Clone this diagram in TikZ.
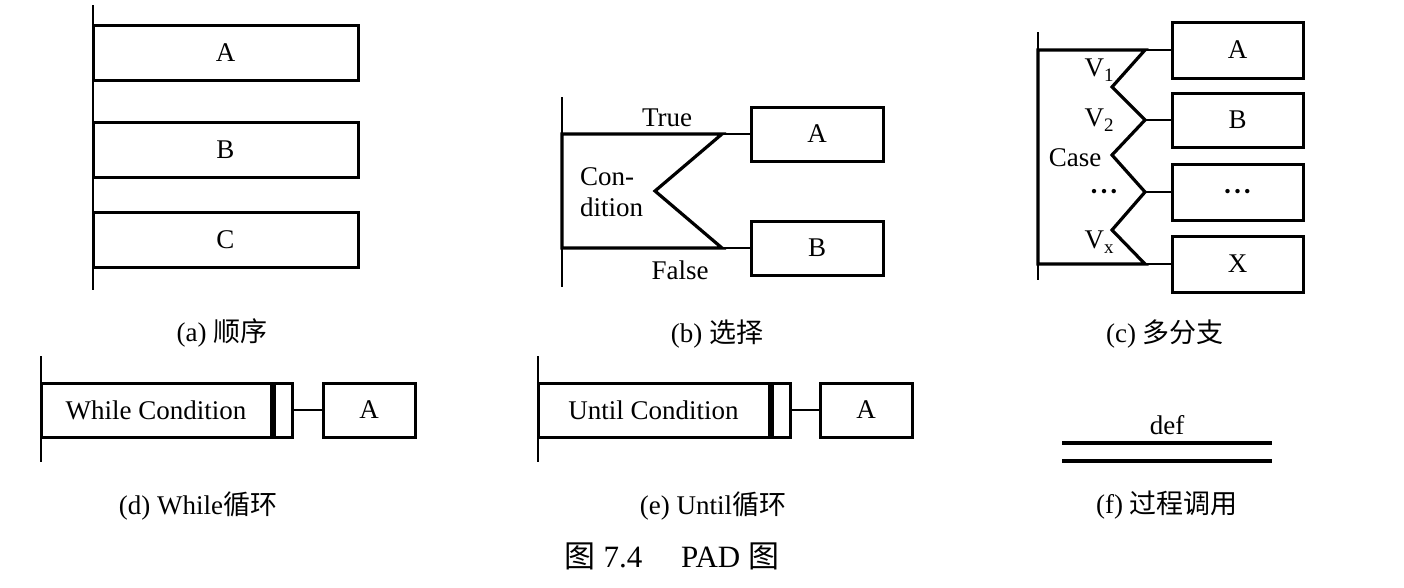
\documentclass[tikz,border=0pt]{standalone}
\usepackage{fontspec}
\setmainfont{Liberation Serif}
\newfontfamily\cjk{Noto Sans CJK SC}
\usetikzlibrary{positioning, calc}
\tikzset{box/.style={draw, line width=3pt, minimum height=55pt, inner sep=0pt, font=\fontsize{27}{31}\selectfont}}
\tikzset{link/.style={line width=1.3pt}, heavy/.style={line width=3.2pt, line join=miter}}
\tikzset{lbl/.style={inner sep=0pt, font=\fontsize{27}{31}\selectfont}, caption/.style={inner sep=0pt, font=\fontsize{27}{30}\selectfont}}
\newcommand{\vsub}[1]{V\raisebox{-0.45ex}{\fontsize{19}{19}\selectfont #1}}
\newcommand{\dotsc}{\raisebox{-8pt}[0pt][0pt]{\bfseries\textperiodcentered\kern1pt\textperiodcentered\kern1pt\textperiodcentered}}

\begin{document}
\begin{tikzpicture}[x=1pt, y=-1pt]
\useasboundingbox (0,0) rectangle (1404,587);
% (a) sequence
\draw[link] (93,5) -- (93,290);
\node[box, minimum width=265pt] (sa) at (225.5,52.5) {A};
\node[box, minimum width=265pt] (sb) at (225.5,149.5) {B};
\node[box, minimum width=265pt] (sc) at (225.5,240) {C};
\node[caption] (capa) at (222,333) {(a) {\cjk 顺序}};
% (b) selection
\draw[link] (562,97) -- (562,287);
\coordinate (bt) at (722,134);
\coordinate (bm) at (655,191);
\coordinate (bb) at (722,248);
\draw[heavy] (bt) -- (bm) -- (bb) -- (562,248) -- (562,134) -- cycle;
\node[box, minimum width=132pt, minimum height=54pt] (ba) at (817,134) {A};
\node[box, minimum width=132pt, minimum height=54pt] (bbx) at (817,248) {B};
\draw[link] (bt) -- (ba.west)
(bb) -- (bbx.west);
\node[lbl] (tru) at (667,118) {True};
\node[lbl] (fal) at (680,270) {False};
\node[lbl, align=left, anchor=west] (cnd) at (580,192) {Con-\\dition};
\node[caption] (capb) at (717,334) {(b) {\cjk 选择}};
% (c) case
\draw[link] (1038,32) -- (1038,280);
\coordinate (c1) at (1145,50);
\coordinate (c2) at (1112,87);
\coordinate (c3) at (1145,120);
\coordinate (c4) at (1112,155);
\coordinate (c5) at (1145,192);
\coordinate (c6) at (1112,230);
\coordinate (c7) at (1145,264);
\draw[heavy] (c1) -- (c2) -- (c3) -- (c4) -- (c5) -- (c6) -- (c7) -- (1038,264) -- (1038,50) -- cycle;
\node[box, minimum width=131pt, minimum height=56pt] (ca) at (1237.5,50) {A};
\node[box, minimum width=131pt, minimum height=54pt] (cb) at (1237.5,120) {B};
\node[box, minimum width=131pt, minimum height=56pt] (cd) at (1237.5,192) {\dotsc};
\node[box, minimum width=131pt, minimum height=56pt] (cx) at (1237.5,264) {X};
\draw[link] (c1) -- (ca.west)
(c3) -- (cb.west)
(c5) -- (cd.west)
(c7) -- (cx.west);
\node[lbl] (v1) at (1099,70) {\vsub{1}};
\node[lbl] (v2) at (1099,120) {\vsub{2}};
\node[lbl] (cse) at (1075,158) {Case};
\node[lbl] (vd) at (1104,192) {\dotsc};
\node[lbl] (vx) at (1099,242) {\vsub{x}};
\node[caption] (capc) at (1165,334) {(c) {\cjk 多分支}};
% (d) while
\draw[link] (41,356) -- (41,462);
\node[box, minimum width=230pt, minimum height=54pt] (wc) at (156,410) {While Condition};
\node[box, minimum width=18pt, minimum height=54pt, right=0pt of wc] (wr) {};
\node[box, minimum width=92pt, minimum height=54pt] (wa) at (369,410) {A};
\draw[link] (wr) -- (wa);
\node[caption] (capd) at (198,506) {(d) While{\cjk 循环}};
% (e) until
\draw[link] (538,356) -- (538,462);
\node[box, minimum width=231pt, minimum height=54pt] (uc) at (653.5,410) {Until Condition};
\node[box, minimum width=18pt, minimum height=54pt, right=0pt of uc] (ur) {};
\node[box, minimum width=92pt, minimum height=54pt] (ua) at (866,410) {A};
\draw[link] (ur) -- (ua);
\node[caption] (cape) at (713,506) {(e) Until{\cjk 循环}};
% (f) call
\draw[heavy] (1062,443) -- (1272,443)
(1062,461) -- (1272,461);
\node[lbl] (def) at (1167,425) {def};
\node[caption] (capf) at (1167,505) {(f) {\cjk 过程调用}};
% title
\node[inner sep=0pt, font=\fontsize{31}{34}\selectfont] (ttl) at (672,556) {{\cjk 图} 7.4\hspace{1em} PAD {\cjk 图}};
\end{tikzpicture}
\end{document}
